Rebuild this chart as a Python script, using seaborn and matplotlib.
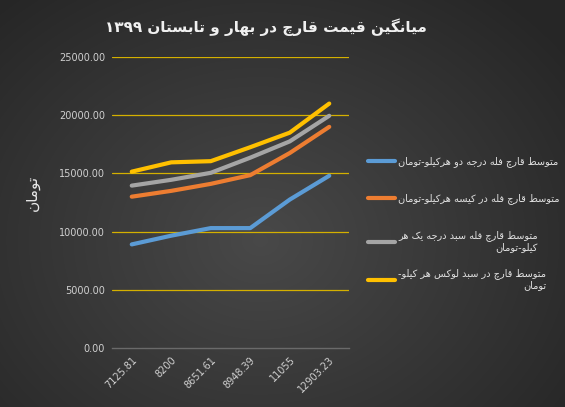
import numpy as np
import pandas as pd
import matplotlib
matplotlib.use("Agg")
import matplotlib.pyplot as plt
import seaborn as sns

# ---------------- data ----------------
categories = ["7125.81", "8200", "8651.61", "8948.39", "11055", "12903.23"]
series_names = [
    "متوسط قارچ فله درجه دو هرکیلو-تومان",
    "متوسط قارچ فله در کیسه هرکیلو-تومان",
    "متوسط قارچ فله سبد درجه یک هر\nکیلو-تومان",
    "متوسط قارچ در سبد لوکس هر کیلو-\nتومان",
]
grade2 = [8900, 9650, 10300, 10300, 12750, 14800]
bag = [13000, 13500, 14100, 14850, 16750, 19000]
grade1 = [13950, 14450, 15050, 16350, 17750, 19950]
lux = [15150, 15950, 16050, 17250, 18500, 21000]
y_ticks = [0, 5000, 10000, 15000, 20000, 25000]
title_text = "میانگین قیمت قارچ در بهار و تابستان ۱۳۹۹"
ylabel_text = "تومان"

colors = ["#5B9BD5", "#ED7D31", "#A5A5A5", "#FFC000"]

# ------------- minimal Persian shaping -------------
FORMS = {  # isolated, final, initial, medial
    "ا": ("\uFE8D", "\uFE8E", None, None),
    "ب": ("\uFE8F", "\uFE90", "\uFE91", "\uFE92"),
    "پ": ("\uFB56", "\uFB57", "\uFB58", "\uFB59"),
    "ت": ("\uFE95", "\uFE96", "\uFE97", "\uFE98"),
    "ث": ("\uFE99", "\uFE9A", "\uFE9B", "\uFE9C"),
    "ج": ("\uFE9D", "\uFE9E", "\uFE9F", "\uFEA0"),
    "چ": ("\uFB7A", "\uFB7B", "\uFB7C", "\uFB7D"),
    "ح": ("\uFEA1", "\uFEA2", "\uFEA3", "\uFEA4"),
    "خ": ("\uFEA5", "\uFEA6", "\uFEA7", "\uFEA8"),
    "د": ("\uFEA9", "\uFEAA", None, None),
    "ذ": ("\uFEAB", "\uFEAC", None, None),
    "ر": ("\uFEAD", "\uFEAE", None, None),
    "ز": ("\uFEAF", "\uFEB0", None, None),
    "ژ": ("\uFB8A", "\uFB8B", None, None),
    "س": ("\uFEB1", "\uFEB2", "\uFEB3", "\uFEB4"),
    "ش": ("\uFEB5", "\uFEB6", "\uFEB7", "\uFEB8"),
    "ص": ("\uFEB9", "\uFEBA", "\uFEBB", "\uFEBC"),
    "ض": ("\uFEBD", "\uFEBE", "\uFEBF", "\uFEC0"),
    "ط": ("\uFEC1", "\uFEC2", "\uFEC3", "\uFEC4"),
    "ظ": ("\uFEC5", "\uFEC6", "\uFEC7", "\uFEC8"),
    "ع": ("\uFEC9", "\uFECA", "\uFECB", "\uFECC"),
    "غ": ("\uFECD", "\uFECE", "\uFECF", "\uFED0"),
    "ف": ("\uFED1", "\uFED2", "\uFED3", "\uFED4"),
    "ق": ("\uFED5", "\uFED6", "\uFED7", "\uFED8"),
    "ک": ("\uFB8E", "\uFB8F", "\uFB90", "\uFB91"),
    "گ": ("\uFB92", "\uFB93", "\uFB94", "\uFB95"),
    "ل": ("\uFEDD", "\uFEDE", "\uFEDF", "\uFEE0"),
    "م": ("\uFEE1", "\uFEE2", "\uFEE3", "\uFEE4"),
    "ن": ("\uFEE5", "\uFEE6", "\uFEE7", "\uFEE8"),
    "و": ("\uFEED", "\uFEEE", None, None),
    "ه": ("\uFEE9", "\uFEEA", "\uFEEB", "\uFEEC"),
    "ی": ("\uFBFC", "\uFBFD", "\uFBFE", "\uFBFF"),
}


def shape_line(s):
    out = []
    n = len(s)
    for i, ch in enumerate(s):
        if ch not in FORMS:
            out.append(ch)
            continue
        prev = s[i - 1] if i > 0 else None
        nxt = s[i + 1] if i + 1 < n else None
        join_prev = prev in FORMS and FORMS[prev][2] is not None
        join_next = nxt in FORMS and FORMS[ch][2] is not None
        iso, fin, ini, med = FORMS[ch]
        if join_prev and join_next:
            out.append(med)
        elif join_prev:
            out.append(fin)
        elif join_next:
            out.append(ini)
        else:
            out.append(iso)
    vis = "".join(out)[::-1]
    # keep digit runs left-to-right
    res, run = [], []
    for ch in vis:
        if ch.isdigit():
            run.append(ch)
        else:
            if run:
                res.extend(run[::-1])
                run = []
            res.append(ch)
    if run:
        res.extend(run[::-1])
    return "".join(res)


def fa(s):
    return "\n".join(shape_line(l) for l in s.split("\n"))


# ------------- dataframe -------------
rows = []
for name, vals in zip(series_names, [grade2, bag, grade1, lux]):
    for i, v in enumerate(vals):
        rows.append({"x": i, "value": v, "series": fa(name)})
df = pd.DataFrame(rows)

sns.set_theme(style="white")
plt.rcParams["font.family"] = ["DejaVu Sans"]

fig = plt.figure(figsize=(5.65, 4.07), dpi=100)

# radial gradient background
bg = fig.add_axes([0, 0, 1, 1], zorder=-10)
yy, xx = np.mgrid[0:407, 0:565]
r = np.sqrt(((xx - 260) / 400.0) ** 2 + ((yy - 240) / 330.0) ** 2)
val = np.clip(0.285 - 0.14 * r, 0.15, 0.285)
img = np.dstack([val, val, val])
bg.imshow(img, aspect="auto", extent=[0, 1, 0, 1])
bg.axis("off")

ax = fig.add_axes([112 / 565, 1 - 348 / 407, 237 / 565, (348 - 57) / 407])
ax.set_facecolor("none")

sns.lineplot(data=df, x="x", y="value", hue="series", palette=colors,
             linewidth=3.0, ax=ax, legend=True)

ax.set_xlim(-0.5, len(categories) - 0.5)
ax.set_ylim(0, 25000)
ax.set_yticks(y_ticks)
ax.set_yticklabels([f"{t:.2f}" for t in y_ticks], color="#d0d0d0", fontsize=7)
ax.set_xticks(range(len(categories)))
ax.set_xticklabels(categories, rotation=45, ha="right", rotation_mode="anchor",
                   color="#d0d0d0", fontsize=7)
ax.tick_params(axis="both", length=0, pad=5)
for t in y_ticks[1:]:
    ax.axhline(t, color="#D4B000", linewidth=0.9, zorder=0)
for s in ["top", "right", "left"]:
    ax.spines[s].set_visible(False)
ax.spines["bottom"].set_color("#6a6a6a")
ax.spines["bottom"].set_linewidth(1.0)
ax.set_xlabel("")
ax.set_ylabel(fa(ylabel_text), color="#e8e8e8", fontsize=11)
ax.yaxis.set_label_coords((40 - 112) / 237, (348 - 193) / 291)

handles, labels = ax.get_legend_handles_labels()
ax.get_legend().remove()
row_centers = [162, 199, 236, 274]
for h, lab, yc in zip(handles, labels, row_centers):
    leg = fig.legend([h], [lab], loc="upper left",
                     bbox_to_anchor=(368 / 565, 1 - (yc - 6) / 407),
                     frameon=False, fontsize=7, handlelength=2.8,
                     handletextpad=0.3, borderpad=0, borderaxespad=0)
    for txt in leg.get_texts():
        txt.set_color("#e0e0e0")
        txt.set_multialignment("right")
    for line in leg.get_lines():
        line.set_linewidth(3.0)

fig.text(0.47, 1 - 27 / 407, fa(title_text), ha="center", va="center",
         color="#f0f0f0", fontsize=11, fontweight="bold")

fig.savefig("out.png", dpi=100)
